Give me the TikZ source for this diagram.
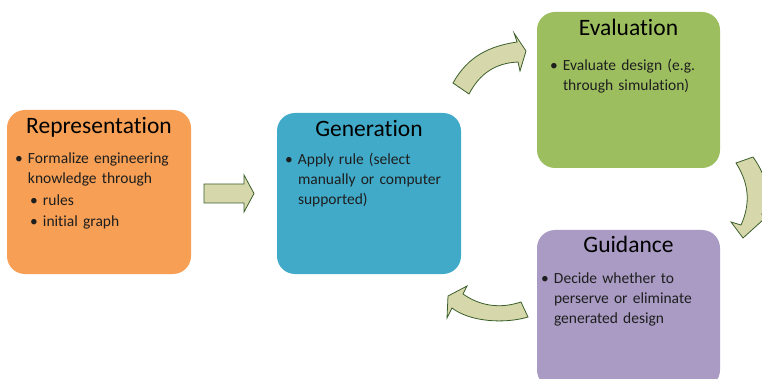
\documentclass[tikz,border=0pt]{standalone}
\usepackage{fontspec}
\setmainfont{Carlito}[Ligatures=NoCommon]
\usepackage{tikz}
\usetikzlibrary{positioning}
\definecolor{repCol}{HTML}{F69F55}
\definecolor{genCol}{HTML}{41AAC8}
\definecolor{evaCol}{HTML}{9DBE5F}
\definecolor{guiCol}{HTML}{A99BC4}
\definecolor{arrFill}{HTML}{D6D8AB}
\definecolor{arrEdge}{HTML}{3B5E2B}
\definecolor{txtCol}{HTML}{1E1E1E}
\newlength{\bulw}\setlength{\bulw}{13pt}
\newcommand{\itm}[1]{\noindent\hangindent=\bulw\makebox[\bulw][l]{\textbullet}#1\par}
\newcommand{\subitm}[1]{\vspace{2pt}\noindent\hangindent=28pt\hspace*{15pt}\makebox[\bulw][l]{\textbullet}#1\par}
\tikzset{
  stage/.style={rounded corners=18pt, minimum width=184pt, inner sep=0pt},
  ttl/.style={font=\fontsize{23.5}{28}\selectfont, text=black, inner sep=0pt},
  body/.style={font=\fontsize{15.5}{19.7}\selectfont, text=txtCol, text width=185pt,
               inner sep=0pt, anchor=base west, align=left},
  blockarr/.style={fill=arrFill, draw=arrEdge, line width=0.8pt, line join=miter}, % khaki block arrows
}

\begin{document}
\begin{tikzpicture}[x=1pt,y=-1pt]
  \useasboundingbox (0,0) rectangle (762,379);
  \clip (0,0) rectangle (762,379);

  % stages
  \node[stage, fill=repCol, minimum height=164pt] (rep) at (99,192) {};
  \node[stage, fill=genCol, minimum height=161pt] (gen) at (369,193.5) {};
  \node[stage, fill=evaCol, minimum width=183pt, minimum height=156pt] (eva) at (628.5,90) {};
  \node[stage, fill=guiCol, minimum width=183pt, minimum height=158pt] (gui) at (628.5,309) {};

  \node[ttl] (repT) at ([yshift=-18pt]rep.north) {Representation};
  \node[ttl] (genT) at ([yshift=-16pt]gen.north) {Generation};
  \node[ttl] (evaT) at ([yshift=-16pt]eva.north) {Evaluation};
  \node[ttl] (guiT) at ([yshift=-15pt]gui.north) {Guidance};

  \node[body] (repB) at ([xshift=8pt,yshift=-54pt]rep.north west)
    {\itm{Formalize engineering\newline knowledge through}\subitm{rules}\subitm{initial graph}};
  \node[body] (genB) at ([xshift=8pt,yshift=-52pt]gen.north west)
    {\itm{Apply rule (select\newline manually or computer\newline supported)}};
  \node[body] (evaB) at ([xshift=13pt,yshift=-59pt]eva.north west)
    {\itm{Evaluate design (e.g.\newline through simulation)}};
  \node[body] (guiB) at ([xshift=4pt,yshift=-54pt]gui.north west)
    {\itm{Decide whether to\newline perserve or eliminate\newline generated design}};

  % arrows between the stages
  \draw[blockarr] (204,184) -- (244,184) -- (244,175) -- (254,193.5) -- (244,212) -- (244,203) -- (204,203) -- cycle;
  \draw[blockarr] (453,83) .. controls (468,56) and (490,46) .. (517,42) -- (514,33) -- (526,51)
    -- (520,71) -- (518,62) .. controls (496,63) and (480,73) .. (469,94) -- cycle;
  \draw[blockarr] (736,163) -- (753,157) .. controls (768,178) and (771,198) .. (762,214) -- (774,210)
    -- (743,238) -- (731,222) -- (741,225) .. controls (750,205) and (750,185) .. (736,163) -- cycle;
  \draw[blockarr] (521,302) .. controls (500,309) and (480,306) .. (463,294) -- (467,286) -- (448,296)
    -- (447,318) -- (452,308) .. controls (470,322) and (505,324) .. (528,317) -- cycle;
\end{tikzpicture}
\end{document}
